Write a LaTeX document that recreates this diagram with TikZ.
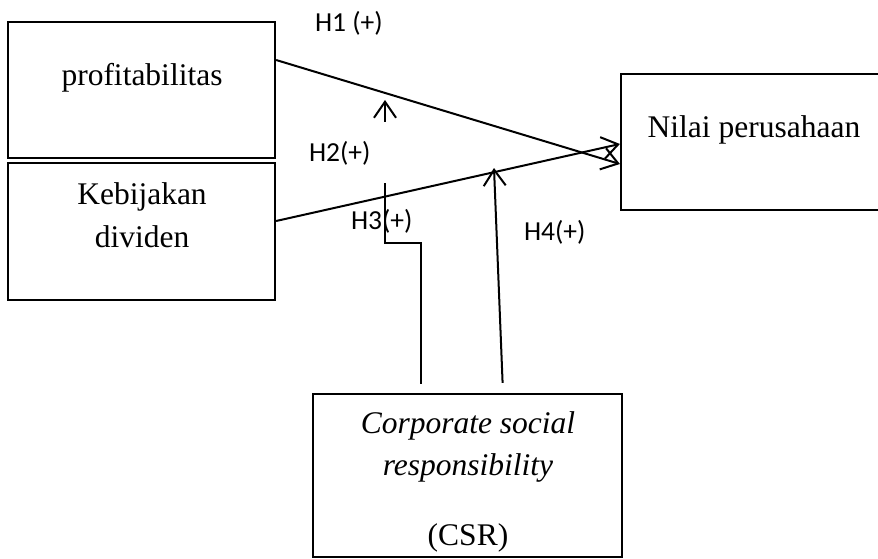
\documentclass[tikz,border=0pt]{standalone}
\usepackage{fontspec}
\setmainfont{Liberation Serif}
\newfontfamily\labfont{Carlito}
\usetikzlibrary{arrows.meta}
\begin{document}
\begin{tikzpicture}[x=1pt, y=-1pt, line join=miter, line width=2pt,
	>={Straight Barb[length=16pt,width=22pt]},
	varbox/.style={draw, line width=2.2pt, inner sep=0pt},
	boxtext/.style={font=\fontsize{31.5}{40}\selectfont, anchor=base, inner sep=0pt},
	hyp/.style={font=\labfont\fontsize{27.5}{32}\selectfont, anchor=base west, inner sep=0pt}]
	\useasboundingbox (0,0) rectangle (878,559);
	\clip (0,0) rectangle (878,559);
	% boxes
	\node[varbox, minimum width=267pt, minimum height=136pt] (prof) at (141.5,90) {};
	\node[varbox, minimum width=267pt, minimum height=137pt] (kebij) at (141.5,231.5) {};
	\node[varbox, minimum width=280pt, minimum height=136pt] (nilai) at (761,142) {};
	\node[varbox, minimum width=309pt, minimum height=163pt] (csr) at (467.5,475.5) {};
	% box texts
	\node[boxtext] (profT) at (142,86) {profitabilitas};
	\node[boxtext] (kebijT) at (142,204) {Kebijakan};
	\node[boxtext] (divT) at (142,247) {dividen};
	\node[boxtext] (nilaiT) at (754,138) {Nilai perusahaan};
	\node[boxtext] (csrT) at (468,433) {\itshape Corporate social};
	\node[boxtext] (respT) at (468,475) {\itshape responsibility};
	\node[boxtext] (abbrT) at (468,545) {(CSR)};
	% hypothesis labels
	\node[hyp] (h1) at (314,32) {H1 (+)};
	\node[hyp] (h2) at (308,161) {H2(+)};
	\node[hyp] (h3) at (350,229) {H3(+)};
	\node[hyp] (h4) at (523,240) {H4(+)};
	% connectors
	\coordinate (m1a) at (385,122);
	\coordinate (m1b) at (385,100);
	\coordinate (h3a) at (385,243);
	\coordinate (h3b) at (385,183);
	\coordinate (m4) at (494,168);
	\draw[->] ([yshift=30pt]prof.east) -- ([yshift=-22pt]nilai.west);
	\draw[->] ([yshift=10.5pt]kebij.east) -- ([yshift=-2pt]nilai.west);
	\draw[->] (m1a) -- (m1b);
	\draw[shorten <=9pt] ([xshift=-46.5pt]csr.north) |- (h3a) -- (h3b);
	\draw[->, shorten <=10pt] ([xshift=35.5pt]csr.north) -- (m4);
\end{tikzpicture}
\end{document}
